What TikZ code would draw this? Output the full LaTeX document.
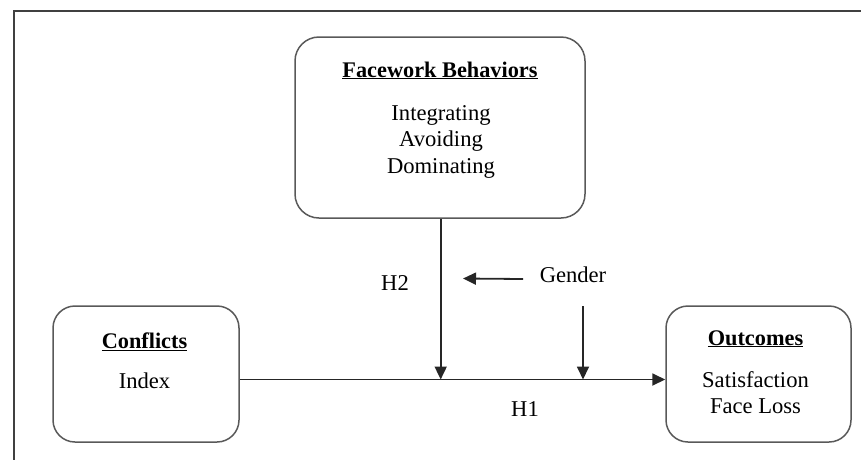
\documentclass[tikz,border=0pt]{standalone}
\usepackage{fontspec}
\setmainfont{Liberation Serif}
\usetikzlibrary{arrows.meta}
\begin{document}
\begin{tikzpicture}[x=1pt,y=-1pt,
  box/.style={draw=black!65,line width=1.5pt,rounded corners=24pt,inner sep=0pt},
  txt/.style={anchor=base,inner sep=0pt,font=\fontsize{22.6}{27}\selectfont},
  ttl/.style={txt,font=\fontsize{22.3}{27}\selectfont\bfseries},
  conn/.style={draw=black!85,line width=1.8pt,-{Triangle[length=13pt,width=12pt]}},
  frame/.style={draw=black!75,line width=2pt}]
\useasboundingbox (0,0) rectangle (861,459);
% frame (top and left sides only)
\coordinate (fTR) at (862,10.5);
\coordinate (fTL) at (13.5,10.5);
\coordinate (fBL) at (13.5,460);
\draw[frame] (fTR) -- (fTL) -- (fBL);
% boxes
\node[box,minimum width=290pt,minimum height=181pt] (face) at (440,127.5) {};
\node[box,minimum width=186pt,minimum height=136pt,rounded corners=22pt] (conf) at (146,374) {};
\node[box,minimum width=185pt,minimum height=136pt,rounded corners=22pt] (outc) at (758.5,374) {};
% texts facework
\node[ttl] (faceT) at (440,77) {\underline{Facework Behaviors}};
\node[txt] (f1) at (441,120) {Integrating};
\node[txt] (f2) at (441,146.7) {Avoiding};
\node[txt] (f3) at (441,173.3) {Dominating};
% conflicts
\node[ttl] (confT) at (144.5,348.3) {\underline{Conflicts}};
\node[txt] (c1) at (144.5,388) {Index};
% outcomes
\node[ttl] (outcT) at (755.5,345) {\underline{Outcomes}};
\node[txt] (o1) at (755.5,387.3) {Satisfaction};
\node[txt] (o2) at (755.5,413.3) {Face Loss};
% labels
\node[txt] (gender) at (573,282.7) {Gender};
\node[txt] (h2) at (395,290) {H2};
\node[txt] (h1) at (525,416) {H1};
% connectors
\coordinate (mainL) at (conf.east |- 0,379.5);
\coordinate (mainR) at (outc.west |- 0,379.5);
\draw[conn] (mainL) -- (mainR);
\coordinate (h2top) at (440.7,218);
\coordinate (h2bot) at (440.7,379.5);
\draw[conn] (face.south -| h2top) -- (h2bot);
\coordinate (gL1) at (523,279);
\coordinate (gL2) at (463,278.5);
\draw[conn] (gL1) -- (gL2);
\coordinate (gD1) at (583,306);
\coordinate (gD2) at (583,379.5);
\draw[conn] (gD1) -- (gD2);
\end{tikzpicture}
\end{document}
